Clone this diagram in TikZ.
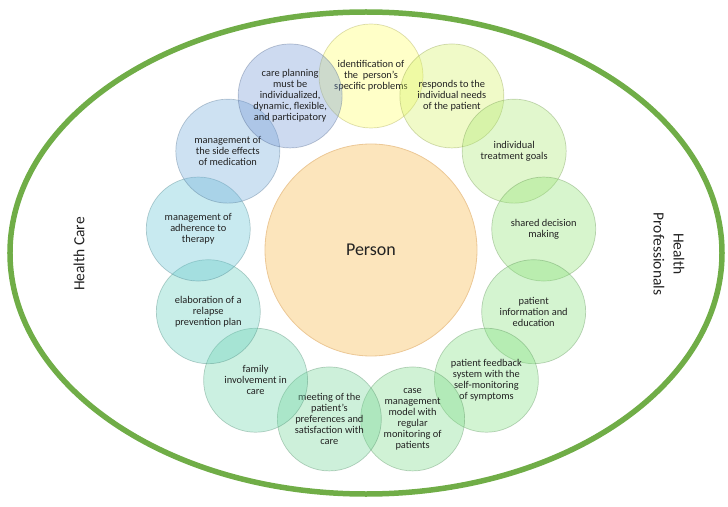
\documentclass[tikz,border=0pt]{standalone}
\usepackage{fontspec}
\setmainfont{Carlito}
\usetikzlibrary{positioning}
\definecolor{ringgreen}{RGB}{112,173,71}
\definecolor{personfill}{RGB}{252,229,188}
\definecolor{persondraw}{RGB}{236,200,150}
\definecolor{inktext}{RGB}{34,34,34}
\definecolor{tone1}{RGB}{255,255,98}
\definecolor{tone2}{RGB}{212,241,98}
\definecolor{tone3}{RGB}{169,232,112}
\definecolor{tone4}{RGB}{141,226,112}
\definecolor{tone5}{RGB}{132,223,121}
\definecolor{tone6}{RGB}{126,223,126}
\definecolor{tone7}{RGB}{121,218,135}
\definecolor{tone8}{RGB}{112,212,149}
\definecolor{tone9}{RGB}{107,212,169}
\definecolor{tone10}{RGB}{98,206,189}
\definecolor{tone11}{RGB}{98,195,212}
\definecolor{tone12}{RGB}{112,169,218}
\definecolor{tone13}{RGB}{112,149,212}

\begin{document}
\begin{tikzpicture}[
  x=1pt, y=1pt,
  bubble/.style={circle, minimum size=104pt, inner sep=0pt, align=center,
    fill=#1, fill opacity=0.35, text opacity=1, draw=#1!60!black, draw opacity=0.35,
    line width=0.7pt, text=inktext, font=\fontsize{10.4}{11}\selectfont},
  core/.style={circle, minimum size=212pt, inner sep=0pt, fill=personfill,
    draw=persondraw, line width=0.8pt, text=inktext, font=\fontsize{18}{20}\selectfont},
  sidelabel/.style={align=center, text=inktext, font=\fontsize{15.5}{20}\selectfont},
]
  \useasboundingbox (-371,-256) rectangle (357,250);

  % outer frame
  \draw[ringgreen, line width=5.5pt] (-5,-3) ellipse [x radius=356, y radius=241];

  \node[core] (person) at (0,0) {Person};

  % ring of bubbles, clockwise from the top
  \node[bubble=tone1] (problems) at (90:174) {identification of\\ the\ \ person's\\ specific problems};
  \node[bubble=tone2] (needs) at (62.31:174) {responds to the\\ individual needs\\ of the patient};
  \node[bubble=tone3] (goals) at (34.62:174) {individual\\ treatment goals};
  \node[bubble=tone4] (decision) at (6.92:174) {shared decision\\ making};
  \node[bubble=tone5] (education) at (-20.77:174) {patient\\ information and\\ education};
  \node[bubble=tone6] (feedback) at (-48.46:174) {patient feedback\\ system with the\\ self-monitoring\\ of symptoms};
  \node[bubble=tone7] (casemgmt) at (-76.15:174) {case\\ management\\ model with\\ regular\\ monitoring of\\ patients};
  \node[bubble=tone8] (preferences) at (-103.85:174) {meeting of the\\ patient's\\ preferences and\\ satisfaction with\\ care};
  \node[bubble=tone9] (family) at (-131.54:174) {family\\ involvement in\\ care};
  \node[bubble=tone10] (relapse) at (-159.23:174) {elaboration of a\\ relapse\\ prevention plan};
  \node[bubble=tone11] (adherence) at (173.08:174) {management of\\ adherence to\\ therapy};
  \node[bubble=tone12] (sideeffects) at (145.38:174) {management of\\ the side effects\\ of medication};
  \node[bubble=tone13] (planning) at (117.69:174) {care planning\\ must be\\ individualized,\\ dynamic, flexible,\\ and participatory};

  \node[sidelabel, rotate=90] (healthcare) at (-292,-4) {Health Care};
  \node[sidelabel, rotate=-90] (professionals) at (298,-4) {Health\\ Professionals};
\end{tikzpicture}
\end{document}
